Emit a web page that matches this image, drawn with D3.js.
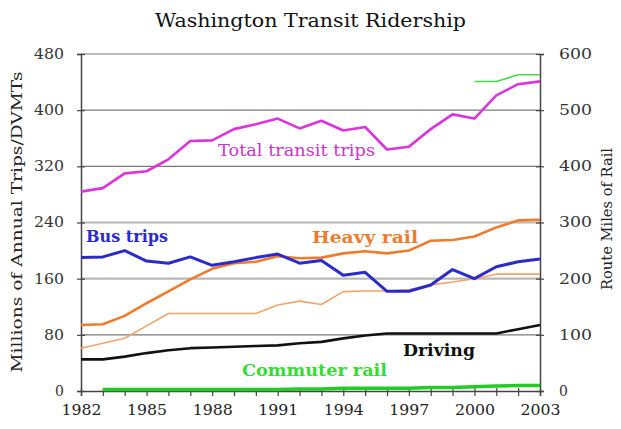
<!DOCTYPE html>
<html><head><meta charset="utf-8">
<script src="https://cdn.jsdelivr.net/npm/d3@7/dist/d3.min.js"></script>
<style>body{margin:0;background:#fff}svg{display:block}text{font-family:"DejaVu Serif","Liberation Serif",serif}</style>
</head><body><svg id="c" width="621" height="429"></svg>
<script>
const years = [1982,1983,1984,1985,1986,1987,1988,1989,1990,1991,1992,1993,1994,1995,1996,1997,1998,1999,2000,2001,2002,2003];
const totalTransit = [284,289,310,313,330,356,357,373,380,388,374,385,371,376,344,348,373,394,388,421,437,441];
const busTrips = [190,191,200,185,182,191,179,184,190,195,182,186,165,169,142,142,151,173,160,177,184,188];
const heavyRail = [94,95,107,125,142,159,174,182,184,192,189,190,196,199,196,200,214,215,220,233,243,244];
const driving = [45,45,49,54,58,61,62,63,64,65,68,70,75,79,82,82,82,82,82,82,88,94];
const commuterRail = [null,2,2,2,2,2,2,2,2,2,3,3,4,4,4,4,5,5,6,7,8,8];
// route miles (right axis)
const heavyRailMiles = [76,85,94,116,138,138,138,138,138,153,160,154,177,178,178,180,189,194,200,208,208,208];
const totalRailMiles = [null,null,null,null,null,null,null,null,null,null,null,null,null,null,null,null,null,null,551,551,563,563];
const leftTicks = [0,80,160,240,320,400,480];
const rightTicks = [0,100,200,300,400,500,600];
const yearLabels = [1982,1985,1988,1991,1994,1997,2000,2003];

const svg = d3.select("#c");
const x = d3.scaleLinear().domain([1982,2003]).range([81,540]);
const yL = d3.scaleLinear().domain([0,480]).range([391,54]);
const yR = d3.scaleLinear().domain([0,600]).range([391,54]);

// gridlines
svg.append("g").selectAll("line").data([80,160,240,320,400,480]).join("line")
  .attr("x1",81).attr("x2",540).attr("y1",d=>yL(d)).attr("y2",d=>yL(d))
  .attr("stroke",d=>(d===160||d===240)?"#b8b8b8":"#7a7a7a")
  .attr("stroke-width",d=>(d===160||d===240)?2.2:1.2);

// left axis
const gl = svg.append("g").attr("transform","translate(81,0)")
  .call(d3.axisLeft(yL).tickValues(leftTicks).tickSize(4).tickPadding(13));
gl.select(".domain").attr("stroke","#444").attr("stroke-width",1.5);
gl.selectAll(".tick line").attr("x1",-4).attr("x2",4).attr("stroke","#444").attr("stroke-width",1.2);
gl.selectAll(".tick text").attr("font-size",14).attr("fill","#333")
  .each(function(d){ if(d>=100) d3.select(this).attr("textLength",30).attr("lengthAdjust","spacingAndGlyphs"); else if(d>=10) d3.select(this).attr("textLength",20).attr("lengthAdjust","spacingAndGlyphs");});

// right axis
const gr = svg.append("g").attr("transform","translate(540,0)")
  .call(d3.axisRight(yR).tickValues(rightTicks).tickSize(4).tickPadding(15));
gr.select(".domain").attr("stroke","#444").attr("stroke-width",1.5);
gr.selectAll(".tick line").attr("x1",-4).attr("x2",4).attr("stroke","#444").attr("stroke-width",1.2);
gr.selectAll(".tick text").attr("font-size",14).attr("fill","#333")
  .each(function(d){ if(d>=100) d3.select(this).attr("textLength",33).attr("lengthAdjust","spacingAndGlyphs");});

// bottom axis
const gb = svg.append("g").attr("transform","translate(0,391)")
  .call(d3.axisBottom(x).tickValues(years).tickSize(5).tickFormat(d=>yearLabels.includes(d)?String(d):""));
gb.select(".domain").attr("stroke","#444").attr("stroke-width",1.5);
gb.selectAll(".tick line").attr("y1",-3).attr("y2",5).attr("stroke","#444").attr("stroke-width",1.2);
gb.selectAll(".tick text").attr("font-size",14).attr("fill","#222").attr("y",14).attr("dy","0.71em")
  .each(function(d){ if(yearLabels.includes(d)) d3.select(this).attr("textLength",40).attr("lengthAdjust","spacingAndGlyphs");});

// lines
const lineL = d3.line().defined(d=>d[1]!=null).x(d=>x(d[0])).y(d=>yL(d[1]));
const lineR = d3.line().defined(d=>d[1]!=null).x(d=>x(d[0])).y(d=>yR(d[1]));
const series = [
  {v:heavyRailMiles, f:lineR, c:"#f2a468", w:1.6},
  {v:driving, f:lineL, c:"#111", w:2.6},
  {v:heavyRail, f:lineL, c:"#ef7b2c", w:2.6},
  {v:busTrips, f:lineL, c:"#2b2bcc", w:3},
  {v:totalTransit, f:lineL, c:"#dd33dd", w:2.6},
  {v:totalRailMiles, f:lineR, c:"#44dd44", w:1.6},
  {v:commuterRail, f:lineL, c:"#22cc22", w:3.5}
];
series.forEach(s=>{
  svg.append("path").datum(years.map((y,i)=>[y,s.v[i]]))
    .attr("d",s.f).attr("fill","none").attr("stroke",s.c).attr("stroke-width",s.w)
    .attr("stroke-linejoin","round");
});

// labels
function label(t,xx,yy,size,color,weight,len){
  svg.append("text").attr("x",xx).attr("y",yy).attr("font-size",size).attr("fill",color)
    .attr("font-weight",weight).attr("textLength",len).attr("lengthAdjust","spacingAndGlyphs").text(t);
}
label("Total transit trips",218,156,16,"#cc33cc","normal",157);
label("Bus trips",86,242,16,"#2b2bcc","bold",82);
label("Heavy rail",312,243,16,"#ef7b2c","bold",106);
label("Driving",403,356,16,"#111","bold",72);
label("Commuter rail",242,376,16,"#33dd33","bold",145);
label("Washington Transit Ridership",155,27,18,"#111","normal",311);

// axis titles
svg.append("text").attr("transform","translate(22,222) rotate(-90)").attr("text-anchor","middle")
  .attr("font-size",15).attr("fill","#222").attr("textLength",301).attr("lengthAdjust","spacingAndGlyphs")
  .text("Millions of Annual Trips/DVMTs");
svg.append("text").attr("transform","translate(612,219) rotate(-90)").attr("text-anchor","middle")
  .attr("font-size",15).attr("fill","#222").attr("textLength",142).attr("lengthAdjust","spacingAndGlyphs")
  .text("Route Miles of Rail");
</script></body></html>
